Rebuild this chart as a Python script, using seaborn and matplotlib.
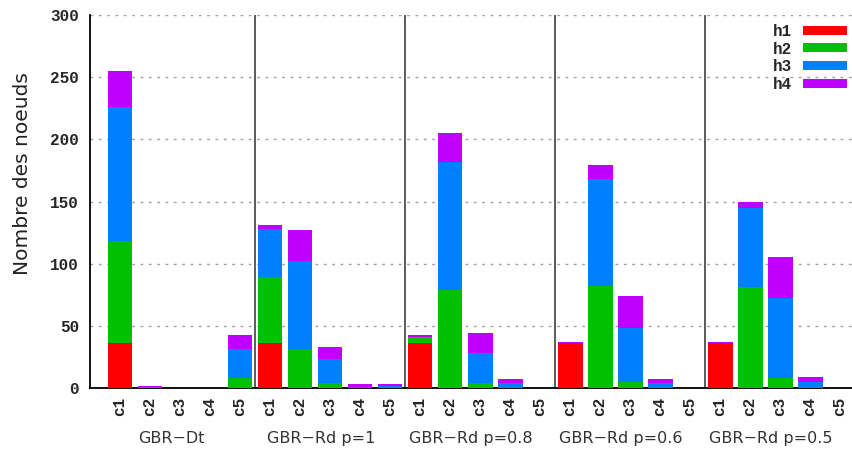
import numpy as np
import pandas as pd
import matplotlib
matplotlib.use("Agg")
import matplotlib.pyplot as plt
import seaborn as sns
from matplotlib.patches import Patch

groups = ["GBR−Dt", "GBR−Rd p=1", "GBR−Rd p=0.8", "GBR−Rd p=0.6", "GBR−Rd p=0.5"]
clusters = ["c1", "c2", "c3", "c4", "c5"]
series = ["h1", "h2", "h3", "h4"]
colors = ["#ff0000", "#00c000", "#0080ff", "#c000ff"]

# one value per bar, group by group (c1..c5)
h1 = [36, 0, 0, 0, 0,   36, 0, 0, 0, 0,   36, 0, 0, 0, 0,   36, 0, 0, 0, 0,   36, 0, 0, 0, 0]
h2 = [82, 0, 0, 0, 8,   53, 31, 4, 0, 0,  5, 79, 4, 0, 0,   0, 82, 5, 0, 0,   0, 81, 8, 0, 0]
h3 = [108, 1, 0, 0, 23, 39, 71, 19, 1, 2, 0, 103, 24, 4, 0, 0, 86, 43, 4, 0,  0, 64, 64, 5, 0]
h4 = [29, 1, 0, 0, 12,  3, 25, 10, 2, 1,  2, 23, 16, 3, 0,  1, 11, 26, 3, 0,  1, 5, 33, 4, 0]

df = pd.DataFrame({
    "group": np.repeat(groups, len(clusters)),
    "cluster": clusters * len(groups),
    "h1": h1, "h2": h2, "h3": h3, "h4": h4,
})
df["key"] = df["group"] + "|" + df["cluster"]
order = list(df["key"])
# cumulative tops for stacking
cum = df[series].cumsum(axis=1)

sns.set_style("white")
mono = ["Liberation Mono", "DejaVu Sans Mono"]

fig = plt.figure(figsize=(8.53, 4.55), dpi=100)
ax = fig.add_axes([90 / 853, 67 / 455, 763 / 853, 373 / 455])

for i in range(len(series) - 1, -1, -1):
    sns.barplot(x=df["key"], y=cum[series[i]], order=order, color=colors[i],
                saturation=1, width=0.83, errorbar=None, linewidth=0, ax=ax, zorder=3)

n = len(order)
ax.set_xlim(-1, n - 0.57)
ax.set_ylim(0, 300)
ax.set_yticks(range(0, 301, 50))
ax.set_xticks(range(n))
ax.set_xticklabels(df["cluster"], rotation=90, fontfamily=mono, fontweight="bold", fontsize=11.5)
for lab in ax.get_yticklabels():
    lab.set_fontfamily(mono)
    lab.set_fontweight("bold")
    lab.set_fontsize(11.5)
ax.tick_params(axis="x", direction="in", length=5, width=1, pad=6, color="black")
ax.tick_params(axis="y", direction="in", length=0, pad=8)

for y in range(50, 301, 50):
    ax.axhline(y, color="#a0a0a0", linestyle=(0, (2, 4)), linewidth=1, zorder=1)

for k in range(1, len(groups)):
    ax.axvline(k * len(clusters) - 0.5, color="#404040", linewidth=1.2, zorder=2)

for s in ["top", "right"]:
    ax.spines[s].set_visible(False)
for s in ["left", "bottom"]:
    ax.spines[s].set_color("black")
    ax.spines[s].set_linewidth(1.3)

ax.set_xlabel("")
ax.set_ylabel("Nombre des noeuds", fontsize=14.5, color="#222222")
ax.yaxis.set_label_coords(-0.076, 0.574)

for k, g in enumerate(groups):
    ax.text(k * len(clusters) + 2 - 0.3, -0.135, g, transform=ax.get_xaxis_transform(),
            ha="center", va="center", fontsize=11.5, color="#333333")

handles = [Patch(facecolor=c, edgecolor="none") for c in colors]
leg = ax.legend(handles, series, loc="upper right", frameon=False, markerfirst=False,
                prop={"family": mono, "weight": "bold", "size": 11.5},
                handlelength=2.75, handleheight=0.5, labelspacing=0.17,
                handletextpad=0.7, borderaxespad=0.15, bbox_to_anchor=(1.004, 1.0))

fig.savefig("out.png", dpi=100)
